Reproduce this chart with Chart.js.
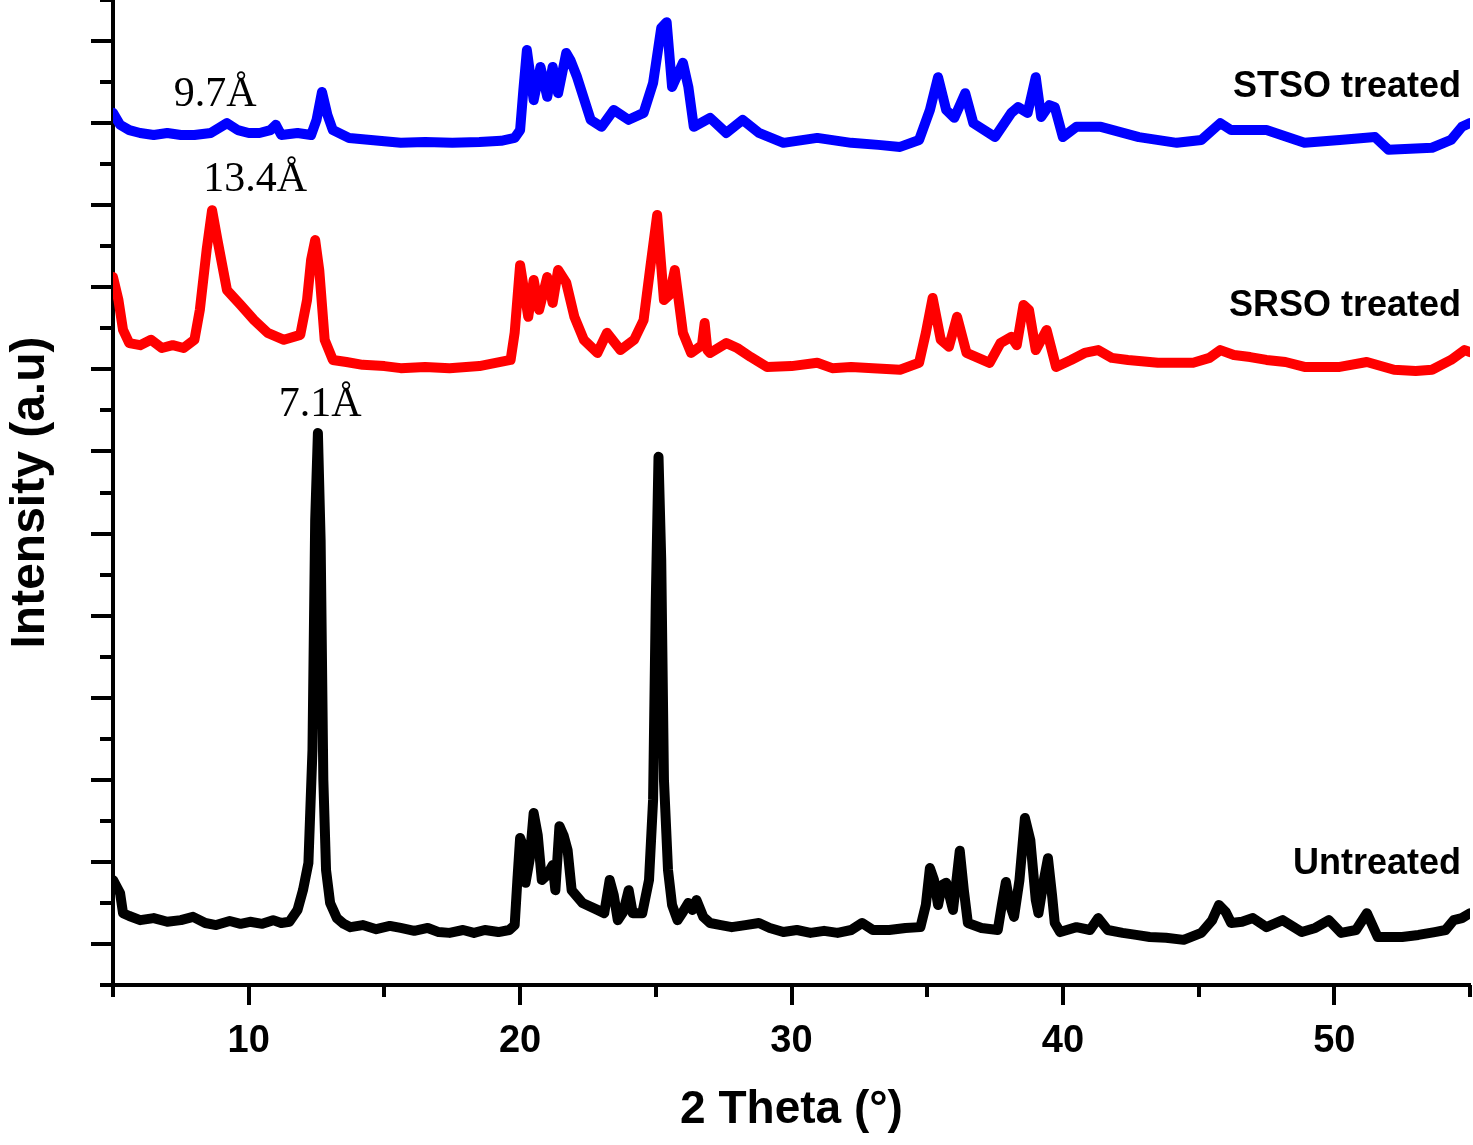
<!DOCTYPE html>
<html>
<head>
<meta charset="utf-8">
<script src="https://cdn.jsdelivr.net/npm/chart.js@4.4.1/dist/chart.umd.min.js"></script>
<style>
  html, body { margin: 0; padding: 0; background: #fff; overflow: hidden; }
  #wrap { width: 1473px; height: 1145px; }
</style>
</head>
<body>
<div id="wrap"><canvas id="xrdChart"></canvas></div>
<script>
// 2 theta (deg) and stacked intensity (a.u)
const untreatedTheta = [5.0, 5.26, 5.37, 5.6, 6.0, 6.5, 7.0, 7.5, 7.95, 8.4, 8.8, 9.3, 9.7, 10.05, 10.5, 10.9, 11.2, 11.5, 11.8, 12.0, 12.2, 12.35, 12.45, 12.55, 12.65, 12.75, 12.85, 13.0, 13.25, 13.5, 13.75, 14.2, 14.7, 15.2, 15.6, 16.1, 16.6, 17.0, 17.4, 17.9, 18.3, 18.7, 19.2, 19.6, 19.8, 19.9, 20.0, 20.1, 20.2, 20.35, 20.5, 20.65, 20.8, 21.0, 21.2, 21.3, 21.45, 21.6, 21.75, 21.9, 22.3, 22.85, 23.1, 23.3, 23.45, 23.6, 23.8, 24.0, 24.15, 24.5, 24.75, 24.9, 25.0, 25.1, 25.2, 25.3, 25.45, 25.6, 25.8, 26.0, 26.2, 26.35, 26.5, 26.75, 27.0, 27.4, 27.8, 28.3, 28.8, 29.2, 29.7, 30.2, 30.7, 31.2, 31.7, 32.2, 32.6, 33.0, 33.6, 34.2, 34.75, 34.95, 35.1, 35.25, 35.4, 35.55, 35.7, 35.95, 36.1, 36.2, 36.35, 36.5, 37.0, 37.6, 37.75, 37.9, 38.05, 38.2, 38.4, 38.6, 38.8, 39.0, 39.1, 39.3, 39.45, 39.6, 39.7, 39.9, 40.5, 41.0, 41.3, 41.65, 42.2, 42.7, 43.2, 43.8, 44.45, 45.1, 45.5, 45.75, 46.0, 46.2, 46.6, 47.0, 47.5, 48.1, 48.8, 49.3, 49.8, 50.25, 50.8, 51.2, 51.6, 52.0, 52.5, 53.1, 53.7, 54.1, 54.4, 54.7, 55.0];
const untreatedI = [2.56, 2.24, 1.75, 1.68, 1.58, 1.63, 1.54, 1.58, 1.66, 1.51, 1.46, 1.56, 1.49, 1.54, 1.49, 1.58, 1.51, 1.54, 1.83, 2.31, 2.97, 5.73, 11.33, 13.45, 10.84, 5.0, 2.80, 2.0, 1.63, 1.49, 1.41, 1.46, 1.36, 1.44, 1.39, 1.32, 1.39, 1.29, 1.27, 1.34, 1.27, 1.34, 1.29, 1.34, 1.46, 2.56, 3.58, 3.41, 2.49, 3.05, 4.19, 3.65, 2.56, 2.68, 2.92, 2.31, 3.87, 3.65, 3.29, 2.31, 2.0, 1.83, 1.75, 2.56, 2.19, 1.58, 1.78, 2.31, 1.75, 1.75, 2.56, 4.51, 9.38, 12.87, 10.36, 5.0, 2.80, 1.95, 1.58, 1.78, 2.0, 1.83, 2.07, 1.66, 1.51, 1.46, 1.41, 1.46, 1.51, 1.39, 1.29, 1.34, 1.27, 1.32, 1.27, 1.34, 1.51, 1.34, 1.34, 1.39, 1.41, 1.95, 2.85, 2.56, 1.95, 2.44, 2.49, 1.83, 2.68, 3.27, 2.31, 1.51, 1.39, 1.34, 1.95, 2.51, 1.95, 1.66, 2.56, 4.07, 3.53, 2.07, 1.75, 2.56, 3.09, 2.19, 1.51, 1.29, 1.41, 1.34, 1.63, 1.34, 1.27, 1.22, 1.17, 1.15, 1.10, 1.27, 1.58, 1.95, 1.78, 1.51, 1.54, 1.63, 1.41, 1.58, 1.29, 1.39, 1.58, 1.27, 1.34, 1.75, 1.17, 1.17, 1.17, 1.22, 1.29, 1.34, 1.58, 1.63, 1.75];

const srsoTheta = [5.0, 5.2, 5.37, 5.6, 6.0, 6.4, 6.8, 7.2, 7.6, 8.0, 8.2, 8.45, 8.65, 8.85, 9.2, 9.7, 10.2, 10.7, 11.3, 11.9, 12.15, 12.3, 12.45, 12.6, 12.8, 13.1, 13.6, 14.2, 15.0, 15.6, 16.5, 17.4, 18.5, 19.65, 19.8, 20.0, 20.3, 20.5, 20.7, 21.0, 21.2, 21.4, 21.7, 22.0, 22.35, 22.85, 23.2, 23.7, 24.2, 24.55, 24.8, 25.05, 25.3, 25.5, 25.7, 26.0, 26.3, 26.7, 26.8, 26.9, 27.0, 27.6, 28.0, 28.5, 29.1, 30.0, 30.95, 31.5, 32.2, 33.0, 34.0, 34.7, 34.95, 35.2, 35.5, 35.8, 36.1, 36.45, 37.3, 37.7, 38.1, 38.3, 38.55, 38.75, 39.0, 39.4, 39.75, 40.3, 40.8, 41.3, 41.8, 42.4, 43.5, 44.8, 45.4, 45.8, 46.3, 46.9, 47.5, 48.2, 48.9, 50.2, 51.2, 52.2, 53.0, 53.6, 54.3, 54.8, 55.0];
const srsoI = [17.25, 16.69, 15.96, 15.64, 15.59, 15.72, 15.52, 15.59, 15.52, 15.72, 16.45, 17.91, 18.88, 18.15, 16.93, 16.57, 16.20, 15.89, 15.72, 15.84, 16.69, 17.67, 18.15, 17.42, 15.72, 15.23, 15.18, 15.11, 15.08, 15.03, 15.06, 15.03, 15.08, 15.23, 15.89, 17.54, 16.28, 17.18, 16.45, 17.25, 16.62, 17.42, 17.11, 16.28, 15.72, 15.40, 15.89, 15.47, 15.72, 16.20, 17.50, 18.76, 16.69, 16.81, 17.42, 15.89, 15.40, 15.59, 16.13, 15.47, 15.40, 15.64, 15.52, 15.30, 15.06, 15.08, 15.16, 15.03, 15.06, 15.03, 14.99, 15.16, 15.89, 16.74, 15.72, 15.55, 16.28, 15.40, 15.16, 15.64, 15.79, 15.59, 16.57, 16.45, 15.47, 15.96, 15.06, 15.23, 15.40, 15.47, 15.28, 15.23, 15.16, 15.16, 15.28, 15.47, 15.35, 15.30, 15.23, 15.18, 15.06, 15.06, 15.18, 14.99, 14.96, 14.99, 15.23, 15.47, 15.42];

const stsoTheta = [5.0, 5.26, 5.6, 6.0, 6.5, 7.0, 7.5, 8.0, 8.6, 9.2, 9.6, 10.0, 10.4, 10.8, 11.0, 11.2, 11.8, 12.3, 12.5, 12.7, 12.9, 13.1, 13.7, 14.5, 15.6, 16.5, 17.5, 18.5, 19.3, 19.8, 20.0, 20.12, 20.25, 20.5, 20.75, 21.0, 21.2, 21.4, 21.7, 21.85, 22.1, 22.6, 23.0, 23.45, 24.0, 24.55, 24.9, 25.2, 25.4, 25.6, 26.0, 26.2, 26.4, 27.0, 27.6, 28.2, 28.8, 29.7, 30.95, 32.2, 33.2, 34.0, 34.7, 35.1, 35.4, 35.7, 36.0, 36.4, 36.7, 37.5, 38.1, 38.35, 38.7, 39.0, 39.2, 39.5, 39.7, 40.0, 40.5, 41.4, 42.8, 44.2, 45.1, 45.8, 46.2, 47.5, 48.9, 50.2, 51.5, 52.0, 53.6, 54.3, 54.7, 55.0];
const stsoI = [21.25, 20.96, 20.83, 20.76, 20.71, 20.76, 20.71, 20.71, 20.76, 21.0, 20.83, 20.76, 20.76, 20.83, 20.96, 20.71, 20.76, 20.71, 21.08, 21.76, 21.20, 20.83, 20.64, 20.59, 20.52, 20.54, 20.52, 20.54, 20.57, 20.64, 20.83, 21.81, 22.78, 21.56, 22.37, 21.64, 22.37, 21.73, 22.71, 22.54, 22.12, 21.08, 20.91, 21.32, 21.08, 21.25, 21.98, 23.32, 23.46, 21.88, 22.47, 21.88, 20.91, 21.13, 20.76, 21.08, 20.76, 20.52, 20.64, 20.52, 20.47, 20.42, 20.59, 21.32, 22.12, 21.32, 21.13, 21.73, 21.0, 20.66, 21.25, 21.39, 21.25, 22.12, 21.15, 21.44, 21.39, 20.66, 20.91, 20.91, 20.66, 20.52, 20.59, 21.0, 20.83, 20.83, 20.52, 20.59, 20.66, 20.35, 20.40, 20.59, 20.91, 21.0];

const xTickValues = [10, 20, 30, 40, 50];
const seriesNames = ['STSO treated', 'SRSO treated', 'Untreated'];
const peakNotes = ['9.7\u00C5', '13.4\u00C5', '7.1\u00C5'];

function pairs(xs, ys) {
  return xs.map((x, i) => ({ x: x, y: ys[i] }));
}

// where the text labels sit, in axis units
const nameAnchors = [[54.67, 21.88], [54.67, 16.54], [54.67, 2.95]];
const noteAnchors = [[8.76, 21.69], [10.24, 19.62], [12.63, 14.13]];

const axisTicks = {
  id: 'axisTicks',
  afterDraw(chart) {
    const ctx = chart.ctx;
    const xs = chart.scales.x, ys = chart.scales.y;
    const area = chart.chartArea;
    ctx.save();
    ctx.strokeStyle = '#000';
    ctx.lineWidth = 4;
    ctx.beginPath();
    for (let v = 0; v <= 24; v++) {
      const py = Math.round(ys.getPixelForValue(v));
      const len = v % 2 === 1 ? 22 : 13;
      ctx.moveTo(area.left - len, py);
      ctx.lineTo(area.left, py);
    }
    for (let v = 5; v <= 55; v += 5) {
      const px = Math.round(xs.getPixelForValue(v));
      const len = v % 10 === 0 ? 20 : 12;
      ctx.moveTo(px, area.bottom);
      ctx.lineTo(px, area.bottom + len);
    }
    ctx.stroke();

    ctx.fillStyle = '#000';
    ctx.textBaseline = 'middle';
    ctx.font = 'bold 36px "Liberation Sans", Arial, sans-serif';
    ctx.textAlign = 'right';
    seriesNames.forEach((s, i) => {
      ctx.fillText(s, xs.getPixelForValue(nameAnchors[i][0]), ys.getPixelForValue(nameAnchors[i][1]));
    });
    ctx.font = '42px "Liberation Serif", "Times New Roman", serif';
    ctx.textAlign = 'center';
    peakNotes.forEach((s, i) => {
      ctx.fillText(s, xs.getPixelForValue(noteAnchors[i][0]), ys.getPixelForValue(noteAnchors[i][1]));
    });
    ctx.restore();
  }
};

new Chart(document.getElementById('xrdChart'), {
  type: 'line',
  data: {
    datasets: [
      { label: 'Untreated', data: pairs(untreatedTheta, untreatedI), borderColor: '#000000' },
      { label: 'SRSO treated', data: pairs(srsoTheta, srsoI), borderColor: '#ff0000' },
      { label: 'STSO treated', data: pairs(stsoTheta, stsoI), borderColor: '#0000ff' }
    ]
  },
  options: {
    responsive: true,
    maintainAspectRatio: false,
    animation: false,
    layout: { padding: { left: 0, right: 3, top: 0, bottom: 0 } },
    elements: {
      line: { borderWidth: 10, tension: 0, borderJoinStyle: 'round', borderCapStyle: 'round' },
      point: { radius: 0, hoverRadius: 0 }
    },
    plugins: { legend: { display: false }, tooltip: { enabled: false } },
    scales: {
      x: {
        type: 'linear',
        min: 5,
        max: 55,
        afterBuildTicks(scale) { scale.ticks = xTickValues.map(v => ({ value: v })); },
        afterFit(scale) { scale.height = 160; scale.paddingLeft = 0; scale.paddingRight = 0; },
        grid: { display: false, drawTicks: false },
        border: { display: true, color: '#000', width: 4 },
        ticks: {
          padding: 34,
          color: '#000',
          maxRotation: 0,
          autoSkip: false,
          font: { family: '"Liberation Sans", Arial, sans-serif', size: 38, weight: 'bold' }
        },
        title: {
          display: true,
          text: '2 Theta (\u00B0)',
          color: '#000',
          padding: { top: 0, bottom: 7 },
          font: { family: '"Liberation Sans", Arial, sans-serif', size: 46, weight: 'bold' }
        }
      },
      y: {
        min: 0,
        max: 24,
        afterFit(scale) { scale.width = 113; scale.paddingTop = 0; scale.paddingBottom = 0; },
        grid: { display: false, drawTicks: false },
        border: { display: true, color: '#000', width: 4 },
        ticks: { display: false, stepSize: 1 },
        title: {
          display: true,
          text: 'Intensity (a.u)',
          color: '#000',
          padding: { top: 2, bottom: 0 },
          font: { family: '"Liberation Sans", Arial, sans-serif', size: 48, weight: 'bold' }
        }
      }
    }
  },
  plugins: [axisTicks]
});
</script>
</body>
</html>
